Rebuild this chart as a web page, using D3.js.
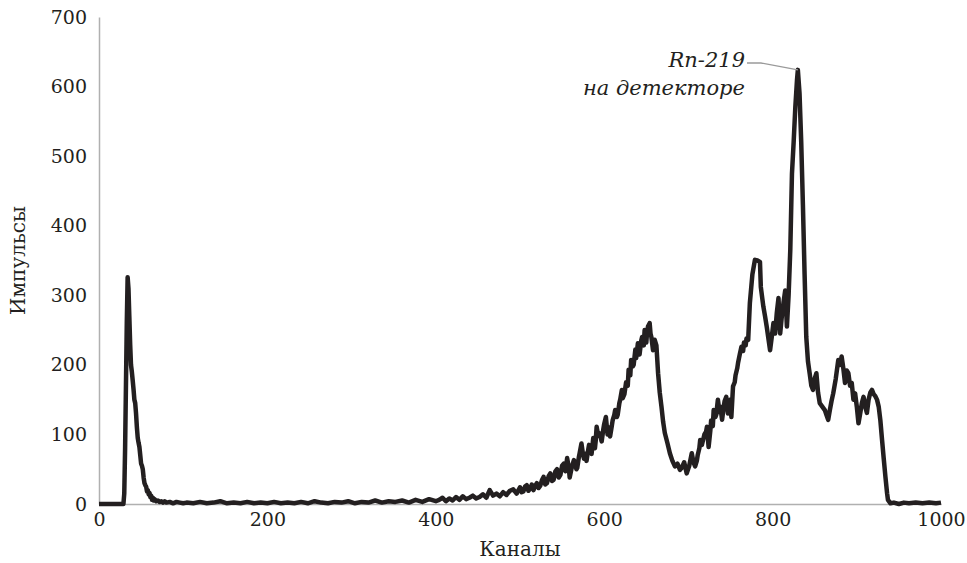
<!DOCTYPE html>
<html>
<head>
<meta charset="utf-8">
<script src="https://cdn.jsdelivr.net/npm/d3@7"></script>
<style>
  body { margin: 0; background: #fff; }
  svg text { font-family: "DejaVu Serif", serif; fill: #231f20; }
</style>
</head>
<body>
<div id="chart"></div>
<script>
// spectrum: channel -> counts (10 per row)
var channels = [
  0, 10, 20, 29, 30, 31, 32, 33, 34, 35,
  36, 37, 38, 39, 40, 41, 42, 43, 44, 45,
  46, 47, 48, 49, 50, 51, 52, 53, 54, 55,
  56, 57, 58, 59, 60, 61, 62, 63, 64, 65,
  66, 68, 70, 72, 74, 76, 78, 80, 84, 88,
  92, 96, 100, 104, 112, 120, 128, 136, 144, 152,
  160, 168, 176, 184, 192, 200, 208, 216, 224, 232,
  240, 248, 256, 264, 272, 280, 288, 296, 304, 312,
  320, 328, 336, 344, 352, 360, 368, 376, 384, 392,
  400, 404, 408, 412, 416, 420, 424, 428, 432, 436,
  440, 444, 448, 452, 456, 460, 464, 468, 472, 476,
  480, 484, 488, 492, 496, 500, 502, 504, 506, 508,
  510, 512, 514, 516, 518, 520, 522, 524, 526, 528,
  530, 532, 534, 536, 538, 540, 542, 544, 546, 548,
  550, 552, 554, 556, 558, 559, 561, 562, 564, 565,
  567, 568, 570, 571, 573, 575, 576, 578, 579, 581,
  582, 584, 585, 587, 589, 590, 591, 593, 594, 596,
  597, 599, 600, 602, 604, 606, 607, 609, 610, 612,
  613, 615, 616, 618, 619, 621, 622, 624, 626, 628,
  629, 631, 632, 634, 635, 637, 638, 640, 642, 644,
  645, 647, 648, 650, 651, 652, 654, 655, 656, 658,
  660, 662, 664, 666, 668, 670, 672, 675, 678, 681,
  684, 687, 690, 692, 695, 698, 701, 704, 706, 708,
  710, 711, 713, 714, 716, 718, 719, 721, 722, 724,
  726, 727, 729, 730, 732, 733, 735, 737, 738, 740,
  742, 743, 745, 747, 748, 750, 751, 753, 755, 756,
  758, 759, 761, 763, 765, 766, 768, 769, 771, 773,
  776, 779, 782, 785, 786, 789, 791, 793, 795, 797,
  799, 801, 803, 805, 807, 809, 811, 813, 815, 817,
  819, 821, 823, 825, 827, 829, 830, 832, 834, 836,
  838, 840, 842, 844, 846, 848, 850, 852, 854, 856,
  859, 862, 864, 866, 868, 870, 872, 875, 878, 880,
  882, 884, 886, 888, 890, 892, 894, 896, 898, 900,
  902, 904, 906, 908, 910, 912, 914, 916, 918, 920,
  922, 924, 926, 928, 930, 932, 934, 936, 937, 940,
  944, 950, 956, 962, 970, 978, 986, 994, 1000];

var counts = [
  0, 0, 0, 0, 15, 80, 170, 260, 326, 310,
  270, 230, 200, 190, 178, 165, 150, 145, 130, 110,
  95, 88, 82, 70, 58, 55, 50, 38, 30, 27,
  25, 18, 20, 14, 16, 10, 12, 6, 9, 5,
  7, 4, 5, 3, 4, 2, 4, 2, 3, 1,
  3, 2, 1, 2, 1, 3, 1, 2, 4, 1,
  2, 1, 3, 1, 2, 1, 3, 1, 2, 1,
  3, 1, 4, 2, 1, 3, 2, 4, 1, 3,
  2, 5, 2, 4, 3, 5, 2, 6, 3, 7,
  4, 6, 9, 4, 8, 5, 10, 6, 11, 7,
  9, 12, 8, 10, 14, 9, 20, 12, 15, 11,
  17, 13, 19, 21, 15, 24, 17, 18, 25, 27,
  19, 22, 28, 20, 26, 30, 23, 26, 34, 39,
  28, 30, 40, 44, 33, 35, 47, 50, 38, 42,
  55, 58, 47, 66, 52, 38, 50, 55, 63, 60,
  50, 52, 68, 74, 87, 70, 65, 72, 62, 78,
  85, 76, 72, 95, 80, 92, 111, 98, 102, 95,
  90, 108, 115, 125, 100, 110, 97, 112, 120, 128,
  135, 125, 128, 145, 150, 164, 152, 158, 175, 170,
  193, 185, 207, 198, 200, 222, 210, 231, 215, 235,
  240, 228, 250, 232, 248, 255, 260, 245, 240, 221,
  236, 228, 188, 160, 140, 118, 102, 88, 73, 62,
  54, 58, 49, 52, 60, 44, 55, 73, 60, 54,
  62, 70, 80, 92, 85, 95, 100, 104, 111, 82,
  105, 120, 112, 135, 125, 128, 150, 132, 140, 121,
  140, 148, 154, 130, 138, 150, 125, 169, 175, 185,
  195, 203, 215, 226, 220, 232, 228, 238, 236, 289,
  330, 351, 350, 348, 312, 284, 270, 255, 238, 221,
  240, 260, 245, 275, 296, 245, 270, 290, 307, 255,
  300, 365, 475, 520, 571, 610, 624, 590, 520, 430,
  330, 240, 205, 188, 170, 164, 180, 188, 160, 145,
  140, 135, 128, 121, 135, 148, 159, 180, 207, 200,
  212, 195, 174, 192, 188, 170, 174, 150, 159, 140,
  116, 130, 145, 154, 140, 131, 150, 160, 164, 158,
  155, 150, 140, 120, 92, 65, 39, 15, 6, 1,
  2, 0, 2, 1, 2, 1, 2, 1, 2];

var xTicks = [0, 200, 400, 600, 800, 1000];
var yTicks = [0, 100, 200, 300, 400, 500, 600, 700];
var peakChannel = 830, peakCount = 624;

if (channels.length != counts.length) console.log("length mismatch", channels.length, counts.length);

var width = 967,
    height = 563;
var margin = {top: 17, right: 26, bottom: 59, left: 99};

var svg = d3.select("#chart").append("svg")
    .attr("width", width)
    .attr("height", height);

var x = d3.scaleLinear().domain([0, 1000]).range([margin.left, width - margin.right]);
var y = d3.scaleLinear().domain([0, 700]).range([height - margin.bottom, margin.top]);

// axes: plain grey lines, no tick marks
var xAxis = svg.append("g")
    .attr("transform", "translate(0," + y(0) + ")")
    .call(d3.axisBottom(x).tickValues(xTicks).tickSize(0).tickPadding(9).tickFormat(d3.format("d")));
var yAxis = svg.append("g")
    .attr("transform", "translate(" + x(0) + ",0)")
    .call(d3.axisLeft(y).tickValues(yTicks).tickSize(0).tickPadding(12).tickFormat(d3.format("d")));

[xAxis, yAxis].forEach(function(a) {
  a.select(".domain").attr("stroke", "#b0b0b0").attr("stroke-width", 1.5);
  a.selectAll("text")
    .style("font-family", "'DejaVu Serif', serif")
    .style("font-size", "19px")
    .attr("fill", "#231f20");
});

// the spectrum
var data = channels.map(function(c, i) { return {ch: c, n: counts[i]}; });

var line = d3.line()
    .x(function(d) { return x(d.ch); })
    .y(function(d) { return y(d.n); });

svg.append("path")
    .datum(data)
    .attr("d", line)
    .attr("fill", "none")
    .attr("stroke", "#231f20")
    .attr("stroke-width", 4.5)
    .attr("stroke-linejoin", "round");

// axis titles
svg.append("text")
    .attr("x", (x(0) + x(1000)) / 2)
    .attr("y", 556)
    .attr("text-anchor", "middle")
    .style("font-size", "20px")
    .text("Каналы");

svg.append("text")
    .attr("transform", "translate(25," + (y(0) + y(700)) / 2 + ") rotate(-90)")
    .attr("text-anchor", "middle")
    .style("font-size", "20px")
    .text("Импульсы");

// peak label with leader line
svg.append("path")
    .attr("d", "M747,63L761,63L" + x(peakChannel) + "," + y(peakCount))
    .attr("fill", "none")
    .attr("stroke", "#9a9a9a")
    .attr("stroke-width", 1.3);

svg.append("text")
    .attr("x", 745)
    .attr("y", 67)
    .attr("text-anchor", "end")
    .style("font-style", "italic")
    .style("font-size", "21px")
    .text("Rn-219");

svg.append("text")
    .attr("x", 745)
    .attr("y", 95)
    .attr("text-anchor", "end")
    .style("font-style", "italic")
    .style("font-size", "21px")
    .text("на детекторе");
</script>
</body>
</html>
